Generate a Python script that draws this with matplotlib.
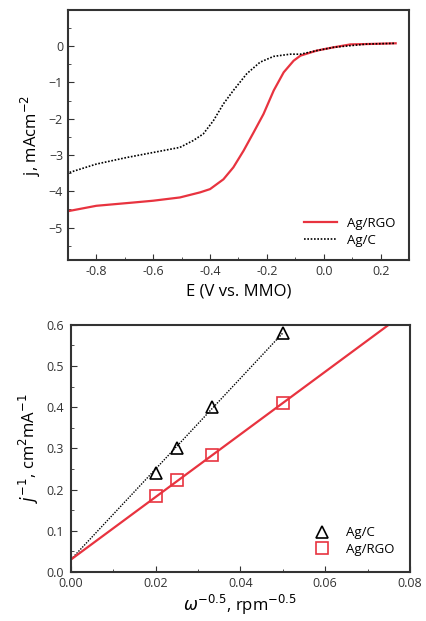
import matplotlib.pyplot as plt
import numpy as np

plt.rcParams['font.family'] = ['Open Sans', 'DejaVu Sans']

# top panel: LSV curves
e_rgo = [-0.894, -0.8, -0.67, -0.6, -0.506, -0.435, -0.4, -0.353, -0.318, -0.282,
         -0.247, -0.212, -0.176, -0.141, -0.106, -0.082, -0.024, 0.035, 0.094, 0.153, 0.253]
j_rgo = [-4.54, -4.40, -4.31, -4.26, -4.17, -4.03, -3.94, -3.67, -3.34, -2.88,
         -2.38, -1.87, -1.22, -0.72, -0.40, -0.26, -0.12, -0.03, 0.05, 0.06, 0.08]

e_c = [-0.894, -0.8, -0.694, -0.6, -0.506, -0.459, -0.424, -0.388, -0.353, -0.318,
       -0.271, -0.224, -0.176, -0.118, -0.082, -0.024, 0.035, 0.153, 0.253]
j_c = [-3.48, -3.25, -3.07, -2.93, -2.79, -2.60, -2.42, -2.05, -1.59, -1.22,
       -0.76, -0.44, -0.28, -0.22, -0.22, -0.12, -0.03, 0.06, 0.08]

# bottom panel: K-L plot
w = [0.02, 0.025, 0.0333, 0.05]
jinv_c = [0.24, 0.30, 0.40, 0.58]
jinv_rgo = [0.185, 0.222, 0.285, 0.41]
fit_c_x = [0.0, 0.05]
fit_c_y = [0.03, 0.58]
fit_rgo_x = [0.0, 0.075]
fit_rgo_y = [0.03, 0.60]

red = '#e8333f'

fig = plt.figure(figsize=(4.27, 6.21), dpi=100)
ax1 = fig.add_axes([0.159, 0.581, 0.799, 0.403])
ax2 = fig.add_axes([0.166, 0.079, 0.794, 0.398])

ax1.plot(e_rgo, j_rgo, color=red, lw=1.6, label='Ag/RGO')
ax1.plot(e_c, j_c, color='black', lw=1.2, ls=(0, (1, 1)), label='Ag/C')
ax1.set_xlim(-0.9, 0.3)
ax1.set_ylim(-5.9, 1)
ax1.set_xticks([-0.8, -0.6, -0.4, -0.2, 0.0, 0.2])
ax1.set_xticklabels(['-0.8', '-0.6', '-0.4', '-0.2', '0.0', '0.2'])
ax1.set_xticks(np.arange(-0.9, 0.3, 0.1), minor=True)
ax1.set_yticks([0, -1, -2, -3, -4, -5])
ax1.set_yticks(np.arange(-5.5, 1, 0.5), minor=True)
ax1.set_xlabel('E (V vs. MMO)', fontsize=12)
ax1.set_ylabel('j, mAcm$^{-2}$', fontsize=12)
ax1.legend(loc='lower right', frameon=False, fontsize=9.5, handlelength=2.5,
           borderaxespad=0.6, labelspacing=0.3)

ax2.plot(fit_c_x, fit_c_y, color='black', lw=1.0, ls=(0, (1, 1)))
ax2.plot(fit_rgo_x, fit_rgo_y, color=red, lw=1.6)
ax2.plot(w, jinv_c, ls='none', marker='^', ms=9, mfc='none', mec='black',
         mew=1.2, label='Ag/C')
ax2.plot(w, jinv_rgo, ls='none', marker='s', ms=8, mfc='none', mec=red,
         mew=1.2, label='Ag/RGO')
ax2.set_xlim(0, 0.08)
ax2.set_ylim(0, 0.6)
ax2.set_xticks([0, 0.02, 0.04, 0.06, 0.08])
ax2.set_xticklabels(['0.00', '0.02', '0.04', '0.06', '0.08'])
ax2.set_xticks(np.arange(0, 0.081, 0.01), minor=True)
ax2.set_yticks(np.arange(0, 0.61, 0.1))
ax2.set_yticklabels(['0.0', '0.1', '0.2', '0.3', '0.4', '0.5', '0.6'])
ax2.set_yticks(np.arange(0, 0.61, 0.05), minor=True)
ax2.set_xlabel('$\\omega^{-0.5}$, rpm$^{-0.5}$', fontsize=12, labelpad=2)
ax2.set_ylabel('$j^{-1}$, cm$^{2}$mA$^{-1}$', fontsize=12)
ax2.legend(loc='lower right', frameon=False, fontsize=9.5, handletextpad=0.8,
           borderaxespad=0.8, labelspacing=0.3)

for ax in (ax1, ax2):
    ax.tick_params(which='both', direction='in', labelsize=9, colors='#333333')
    ax.tick_params(which='major', length=4)
    ax.tick_params(which='minor', length=2)
    for s in ax.spines.values():
        s.set_linewidth(1.5)
        s.set_color('#333333')
ax2.tick_params(axis='y', pad=5)

fig.savefig('out.png', dpi=100)
